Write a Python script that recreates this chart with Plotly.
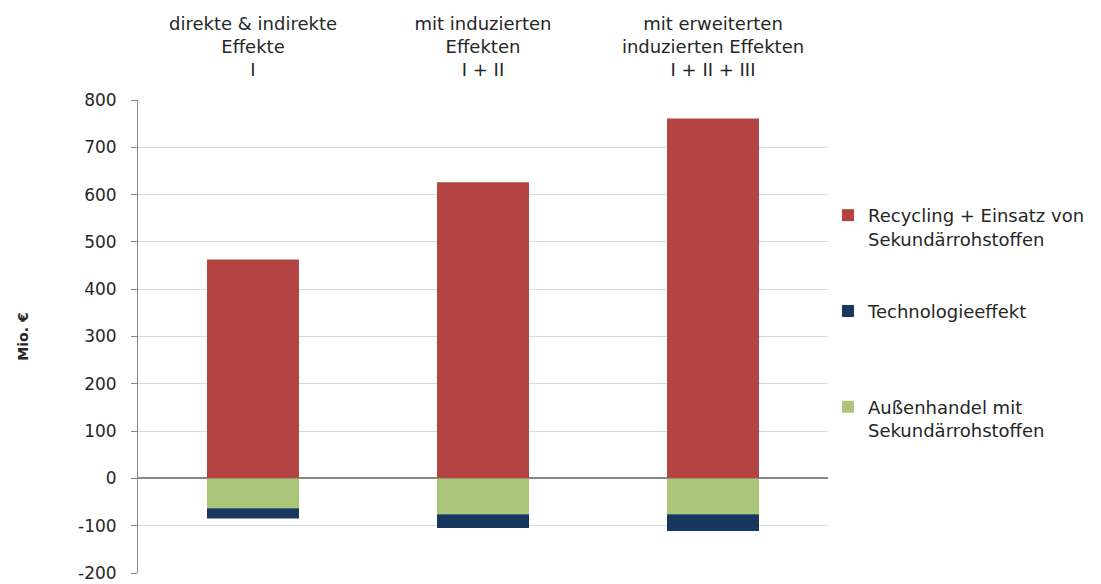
import plotly.graph_objects as go

categories = ["direkte & indirekte<br>Effekte<br>I",
              "mit induzierten<br>Effekten<br>I + II",
              "mit erweiterten<br>induzierten Effekten<br>I + II + III"]
recycling = [463, 626, 761]
aussenhandel = [-63, -76, -76]
technologie = [-22, -29, -35]

y_ticks = [-200, -100, 0, 100, 200, 300, 400, 500, 600, 700, 800]
y_ticktext = [str(v) for v in y_ticks]

FONT = "'DejaVu Sans', sans-serif"
fig = go.Figure()
fig.add_bar(x=categories, y=recycling, name="Recycling + Einsatz von<br>Sekundärrohstoffen",
            marker=dict(color="#B44442", line=dict(width=0)), legendrank=1, legendgroup="a")
fig.add_bar(x=categories, y=aussenhandel, name="Außenhandel mit<br>Sekundärrohstoffen",
            marker=dict(color="#ABC678", line=dict(width=0)), legendrank=3, legendgroup="c")
fig.add_bar(x=categories, y=technologie, name="Technologieeffekt<br> ",
            marker=dict(color="#17375E", line=dict(width=0)), legendrank=2, legendgroup="b")

fig.update_layout(
    width=1101, height=584,
    barmode="relative", bargap=0.6,
    plot_bgcolor="white", paper_bgcolor="white",
    margin=dict(l=138, r=273, t=100, b=11),
    font=dict(family=FONT, size=16, color="#262626"),
    legend=dict(x=1.0, y=0.795, xanchor="left", yanchor="top",
                font=dict(size=18, color="#262626"), traceorder="grouped",
                tracegroupgap=46, itemwidth=30, valign="top"),
    xaxis=dict(side="top", showline=False, ticks="", showgrid=False, automargin=False,
               ticklabelstandoff=19, tickfont=dict(size=18, color="#262626")),
    yaxis=dict(range=[-200, 800], tickvals=y_ticks, ticktext=y_ticktext, showgrid=True,
               gridcolor="#D9D9D9", automargin=False,
               gridwidth=1, zeroline=True, zerolinecolor="#878787", zerolinewidth=2,
               showline=True, linecolor="#878787", linewidth=1, ticks="outside",
               ticklen=6, tickcolor="#878787", ticklabelstandoff=11,
               tickfont=dict(size=17, color="#262626"),
               title=dict(text="<b>Mio. €</b>", font=dict(size=14, color="#262626"), standoff=46)),
)
fig.write_html("out.html")
